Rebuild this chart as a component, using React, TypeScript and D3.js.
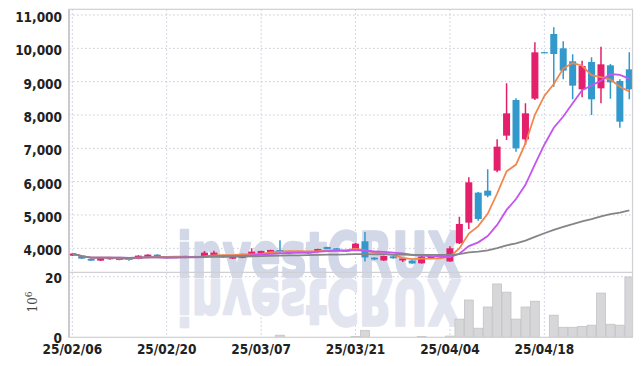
import React from 'react';
import * as d3 from 'd3';

const dates = [
  '2025-02-06','2025-02-07','2025-02-10','2025-02-11','2025-02-12','2025-02-13','2025-02-14',
  '2025-02-17','2025-02-18','2025-02-19','2025-02-20','2025-02-21','2025-02-24','2025-02-25',
  '2025-02-26','2025-02-27','2025-02-28','2025-03-04','2025-03-05','2025-03-06','2025-03-07',
  '2025-03-10','2025-03-11','2025-03-12','2025-03-13','2025-03-14','2025-03-17','2025-03-18',
  '2025-03-19','2025-03-20','2025-03-21','2025-03-24','2025-03-25','2025-03-26','2025-03-27',
  '2025-03-28','2025-03-31','2025-04-01','2025-04-02','2025-04-03','2025-04-04','2025-04-07',
  '2025-04-08','2025-04-09','2025-04-10','2025-04-11','2025-04-14','2025-04-15','2025-04-16',
  '2025-04-17','2025-04-18','2025-04-21','2025-04-22','2025-04-23','2025-04-24','2025-04-25',
  '2025-04-28','2025-04-29','2025-04-30','2025-05-02'
];

const opens = [
  3780,3760,3680,3630,3670,3650,3690,3680,3710,3810,
  3760,3750,3710,3770,3750,3790,3800,3690,3710,3770,
  3830,3850,3950,3850,3870,3850,3900,4040,4000,3940,
  3965,4210,3720,3635,3760,3635,3635,3550,3700,3780,
  3605,4150,4770,5670,5730,6330,7380,8450,7270,8490,
  9885,10430,10000,9610,8770,9590,8800,9490,9020,9370
];
const highs = [
  3850,3770,3690,3720,3740,3720,3700,3790,3820,3820,
  3770,3760,3780,3780,3920,3930,3810,3780,3840,4000,
  3930,3960,4240,3920,3910,3910,3990,4050,4010,3950,
  4160,4490,3730,3780,3770,3710,3645,3830,3780,3790,
  4060,4950,6130,5690,6370,7270,8950,8500,8350,10180,
  9900,10630,10210,9820,9630,9730,10050,9530,9070,9880
];
const lows = [
  3770,3680,3620,3620,3660,3640,3630,3670,3700,3740,
  3700,3700,3700,3720,3740,3780,3720,3680,3700,3760,
  3820,3840,3830,3840,3860,3840,3890,3970,3930,3890,
  3960,3605,3650,3620,3690,3590,3535,3540,3690,3720,
  3595,4130,4580,4830,5530,6280,7250,6900,7100,8450,
  9860,8850,9070,8470,8530,8000,8350,8490,7620,8470
];
const closes = [
  3840,3690,3630,3710,3730,3710,3650,3780,3810,3750,
  3710,3710,3770,3730,3870,3870,3730,3770,3830,3900,
  3920,3950,3890,3910,3900,3900,3980,3980,3940,3900,
  4140,3725,3665,3770,3700,3695,3545,3750,3770,3730,
  4000,4730,5980,4880,5580,7050,8050,7000,8050,9880,
  9875,9830,9330,8880,9470,8470,9520,8980,7800,8770
];
// volume in 10^6 shares
const volumes = [
  0,0,0,0,0,0,0,0,0,0,
  0,0,0,0,0,0,0,0,0,0,
  0,0,0.7,0,0,0,0,0,0,0,
  0.3,2.3,0,0,0,0,0,0.3,0,0,
  0.4,6.0,12.3,3.0,10.0,17.6,14.9,6.0,10.0,11.9,
  0,7.3,3.3,3.3,3.6,4.0,14.6,4.3,4.0,19.9
];

const priceTicks = [4000, 5000, 6000, 7000, 8000, 9000, 10000, 11000];
const volumeTicks = [0, 20];
const dateTickIndex = [0, 10, 20, 30, 40, 50];
const maWindows = [5, 10, 60];
const maColors = ['#f0874f', '#c455ee', '#858585'];

const UP = '#e41f6c';
const DOWN = '#3399cc';

function movingAverage(values: number[], n: number): number[] {
  return values.map((_, i) => d3.mean(values.slice(Math.max(0, i - n + 1), i + 1)) as number);
}

export default function App() {
  const W = 642, H = 366;
  const left = 69, right = 632.5, top = 9.3, mid = 272.3, bottom = 337.3;

  const x = d3.scaleLinear().domain([0, dates.length - 1]).range([72.3, 629.3]);
  const y = d3.scaleLinear().domain([4000, 11000]).range([248.3, 15]);
  const yv = d3.scaleLinear().domain([0, 20]).range([bottom, 276.7]);
  const parse = d3.timeParse('%Y-%m-%d');
  const fmt = d3.timeFormat('%y/%m/%d');
  const numFmt = d3.format(',');

  const candleW = 7;
  const barW = x(1) - x(0) - 0.6;

  const idx = d3.range(dates.length);
  const maLines = maWindows.map((n) => movingAverage(closes, n));
  const line = d3.line<number>().x((_, i) => x(i)).y((d) => y(d));

  const labelFont = "'DejaVu Sans Condensed','Liberation Sans Narrow','Roboto',sans-serif";

  return (
    <svg width={W} height={H} style={{ position: 'absolute', left: 0, top: 0, background: '#fff' }}>
      <defs>
        <clipPath id="pricePanel">
          <rect x={left} y={top} width={right - left} height={mid - top} />
        </clipPath>
        <clipPath id="volPanel">
          <rect x={left} y={mid} width={right - left} height={bottom - mid} />
        </clipPath>
      </defs>
      <rect x={0} y={0} width={W} height={H} fill="#fff" />

      {/* grid */}
      <g stroke="#c5cadb" strokeWidth={1} strokeDasharray="1.5,2.5">
        {priceTicks.map((t) => (
          <line key={'g' + t} x1={left} x2={right} y1={y(t)} y2={y(t)} />
        ))}
        <line x1={left} x2={right} y1={yv(20)} y2={yv(20)} />
        {dateTickIndex.map((i) => (
          <line key={'v' + i} x1={x(i)} x2={x(i)} y1={top} y2={bottom} />
        ))}
      </g>

      {/* watermark */}
      <g fontFamily="'DejaVu Sans',sans-serif" fontWeight="bold" fontSize={62} strokeLinejoin="round">
        <text x={177} y={277} fill="#d2d8e8" stroke="#d2d8e8" strokeWidth={2.5} textLength={284} lengthAdjust="spacingAndGlyphs">investCRUX</text>
        <text x={177} y={-280} transform="scale(1,-1)" fill="#e2e5ef" stroke="#e2e5ef" strokeWidth={2.5} textLength={284} lengthAdjust="spacingAndGlyphs">investCRUX</text>
      </g>

      {/* volume */}
      <g clipPath="url(#volPanel)">
        {idx.map((i) =>
          volumes[i] > 0 ? (
            <rect key={'b' + i} x={x(i) - barW / 2} y={yv(volumes[i])} width={barW} height={bottom - yv(volumes[i])}
              fill="#d7d7d9" stroke="#c3c3c6" strokeWidth={0.8} />
          ) : null
        )}
      </g>

      {/* candles */}
      <g clipPath="url(#pricePanel)">
        {idx.map((i) => {
          const up = closes[i] >= opens[i];
          const c = up ? UP : DOWN;
          const yTop = y(Math.max(opens[i], closes[i]));
          const yBot = y(Math.min(opens[i], closes[i]));
          return (
            <g key={'c' + i}>
              <line x1={x(i)} x2={x(i)} y1={y(highs[i])} y2={y(lows[i])} stroke={c} strokeWidth={1.5} />
              <rect x={x(i) - candleW / 2} y={yTop} width={candleW} height={Math.max(1.2, yBot - yTop)} fill={c} />
            </g>
          );
        })}
        {maLines.map((vals, k) => (
          <path key={'ma' + k} d={line(vals) || ''} fill="none" stroke={maColors[k]} strokeWidth={1.8} />
        ))}
      </g>

      {/* frame */}
      <g fill="none" stroke="#cfcfd4" strokeWidth={1.2}>
        <rect x={left} y={top} width={right - left} height={bottom - top} />
        <line x1={left} x2={right} y1={mid} y2={mid} />
      </g>
      <line x1={left} x2={left} y1={top} y2={bottom} stroke="#c4c4c8" strokeWidth={1.6} />

      {/* price axis labels */}
      <g fontFamily={labelFont} fontWeight="bold" fontSize={13.5} fill="#222" textAnchor="end">
        {priceTicks.map((t) => (
          <text key={'pl' + t} x={62} y={y(t) + 7}>{numFmt(t)}</text>
        ))}
        {volumeTicks.map((t) => (
          <text key={'vl' + t} x={62} y={yv(t) + 6}>{t}</text>
        ))}
      </g>

      {/* date labels */}
      <g fontFamily={labelFont} fontWeight="bold" fontSize={13.5} fill="#222" textAnchor="middle">
        {dateTickIndex.map((i) => (
          <text key={'dl' + i} x={x(i)} y={354}>{fmt(parse(dates[i]) as Date)}</text>
        ))}
      </g>

      {/* volume unit */}
      <text transform="translate(37,302) rotate(-90)" fontFamily="'DejaVu Serif','Liberation Serif',serif" fontSize={12} fill="#444" textAnchor="middle">
        10<tspan dy={-5} fontSize={9}>6</tspan>
      </text>
    </svg>
  );
}
